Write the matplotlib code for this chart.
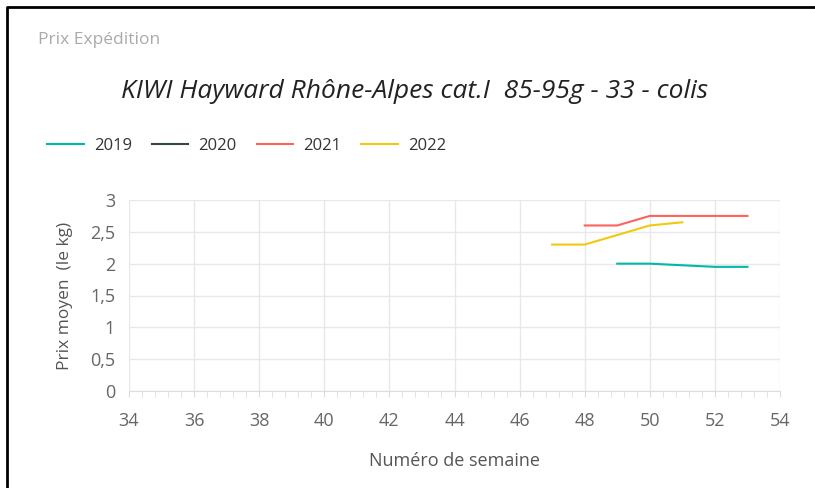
import matplotlib.pyplot as plt
from matplotlib.lines import Line2D
from matplotlib.ticker import MultipleLocator, FuncFormatter

plt.rcParams['font.family'] = ['Open Sans', 'DejaVu Sans']

# weekly prices per season (week numbers, price per kg)
weeks_2019 = [49, 50, 51, 52, 53]
price_2019 = [2.0, 2.0, 1.975, 1.95, 1.95]
weeks_2020 = []
price_2020 = []
weeks_2021 = [48, 49, 50, 51, 52, 53]
price_2021 = [2.6, 2.6, 2.75, 2.75, 2.75, 2.75]
weeks_2022 = [47, 48, 49, 50, 51]
price_2022 = [2.3, 2.3, 2.45, 2.6, 2.65]

fig = plt.figure(figsize=(8.15, 4.88), dpi=100)
ax = fig.add_axes([129/815, 1-391/488, (780-129)/815, (391-200)/488])

ax.plot(weeks_2019, price_2019, color="#01B8AA", lw=1.5, label="2019")
ax.plot(weeks_2020, price_2020, color="#374649", lw=1.5, label="2020")
ax.plot(weeks_2021, price_2021, color="#FD625E", lw=1.5, label="2021")
ax.plot(weeks_2022, price_2022, color="#F2C80F", lw=1.5, label="2022")

ax.set_xlim(34, 54)
ax.set_ylim(0, 3)
ax.xaxis.set_major_locator(MultipleLocator(2))
ax.xaxis.set_minor_locator(MultipleLocator(0.4))
ax.yaxis.set_major_locator(MultipleLocator(0.5))
ax.yaxis.set_major_formatter(FuncFormatter(lambda v, p: ("%g" % v).replace(".", ",")))

ax.grid(True, color="#e8e8e8", lw=1)
ax.set_axisbelow(True)
for s in ["left", "right", "top"]:
    ax.spines[s].set_visible(False)
ax.spines["bottom"].set_color("#dddddd")
ax.tick_params(axis="x", which="both", colors="#dddddd", labelcolor="#666666", labelsize=13, pad=11)
ax.tick_params(axis="x", which="major", length=4)
ax.tick_params(axis="x", which="minor", length=4)
ax.tick_params(axis="y", length=0, labelcolor="#666666", labelsize=13, pad=10)

ax.set_xlabel("Numéro de semaine", fontsize=13, color="#555555", labelpad=16)
ax.set_ylabel("Prix moyen  (le kg)", fontsize=12.5, color="#555555", labelpad=12)

fig.text(38/815, 1-40/488, "Prix Expédition", fontsize=12.5, color="#aaaaaa", va="center")
fig.text(415/815, 1-92/488, "KIWI Hayward Rhône-Alpes cat.I  85-95g - 33 - colis",
         fontsize=19, style="italic", color="#222222", ha="center", va="center")

ax.legend(loc="center left", bbox_to_anchor=(32/815, 1-146/488), bbox_transform=fig.transFigure,
          ncol=4, frameon=False, fontsize=12, handlelength=2.2, handletextpad=0.6,
          columnspacing=1.2, labelcolor="#333333")

# border of the card
fig.add_artist(Line2D([7/815, 7/815, 1], [0, 1-7/488, 1-7/488], color="black", lw=2))

fig.savefig("out.png", dpi=100)
